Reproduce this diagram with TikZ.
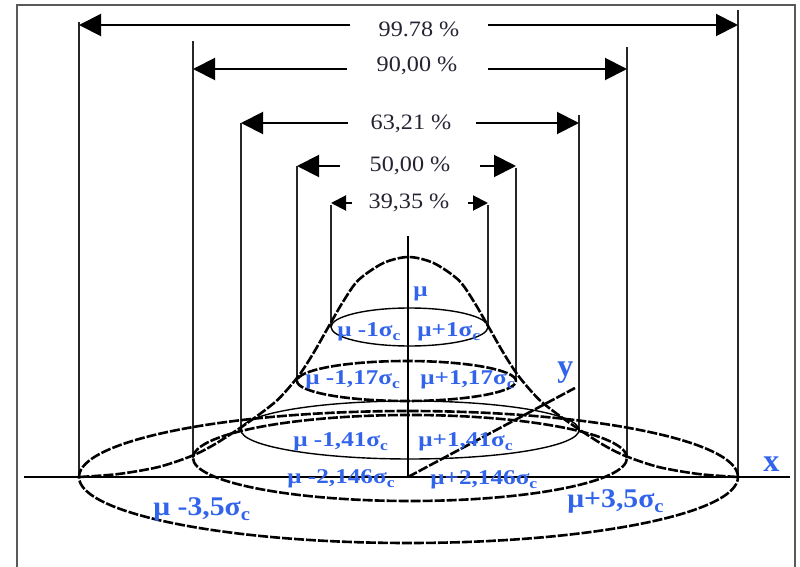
\documentclass[tikz,border=0pt]{standalone}
\usepackage{graphicx}
\usepackage{fontspec}
\setmainfont{Liberation Serif}
\usetikzlibrary{arrows.meta}
\definecolor{lblue}{RGB}{50,100,235}
\definecolor{ptxt}{RGB}{35,35,50}
\newcommand{\hs}[2]{\scalebox{#1}[1]{#2}}
\newcommand{\subc}{\textsubscript{c}}
\begin{document}
\begin{tikzpicture}[x=0.5pt,y=-0.5pt,
  frame/.style={draw=black!65, line width=1.2pt},
  guide/.style={line width=0.9pt, draw=black!85},
  dimarrow/.style={line width=1pt, -{Triangle[length=11pt,width=11pt]}},
  smallarrow/.style={line width=1pt, -{Triangle[length=7.5pt,width=7.5pt]}},
  pct/.style={text=ptxt, font=\fontsize{11}{13}\selectfont, inner sep=0pt},
  lbl/.style={text=lblue, font=\bfseries\fontsize{10.5}{12}\selectfont, inner sep=0pt, anchor=base west},
  biglbl/.style={text=lblue, font=\bfseries\fontsize{13.5}{15}\selectfont, inner sep=0pt, anchor=base west},
  axlbl/.style={text=lblue, font=\bfseries\fontsize{16}{18}\selectfont, inner sep=0pt, anchor=base west},
  rough/.style={line width=1.3pt, dash pattern=on 5pt off 1pt},
  thinell/.style={line width=0.7pt},
  axis/.style={line width=1.2pt}
]
\useasboundingbox (0,0) rectangle (800,567);
% frame (open at the bottom)
\draw[frame] (17,567) -- (17,5) -- (795,5) -- (795,567);

% percentage labels
\node[pct] (p99) at (419,29) {\hs{1.1}{99.78 \%}};
\node[pct] (p90) at (417,66) {\hs{1.1}{90,00 \%}};
\node[pct] (p63) at (411,124) {\hs{1.1}{63,21 \%}};
\node[pct] (p50) at (410,166) {\hs{1.1}{50,00 \%}};
\node[pct] (p39) at (409,203) {\hs{1.1}{39,35 \%}};

% guide line tops
\coordinate (t99l) at (79,22);   \coordinate (t99r) at (738,10);
\coordinate (t90l) at (193,41);  \coordinate (t90r) at (627,47);
\coordinate (t63l) at (241,123); \coordinate (t63r) at (579,115);
\coordinate (t50l) at (297,166); \coordinate (t50r) at (516,168);
\coordinate (t39l) at (331,205); \coordinate (t39r) at (488,205);
% guide line bottoms (ellipse ends)
\coordinate (b99l) at (79,477);  \coordinate (b99r) at (738,477);
\coordinate (b90l) at (193,458); \coordinate (b90r) at (627,458);
\coordinate (b63l) at (241,430); \coordinate (b63r) at (579,430);
\coordinate (b50l) at (297,381); \coordinate (b50r) at (516,381);
\coordinate (b39l) at (331,327); \coordinate (b39r) at (488,327);
\foreach \n in {99l,99r,90l,90r,63l,63r,50l,50r,39l,39r}
  \draw[guide] (t\n) -- (b\n);

% arrow start points and tips
\coordinate (s99l) at (350,25);  \coordinate (e99l) at (79,25);
\coordinate (s99r) at (488,25);  \coordinate (e99r) at (738,25);
\coordinate (s90l) at (347,69);  \coordinate (e90l) at (193,69);
\coordinate (s90r) at (488,69);  \coordinate (e90r) at (627,69);
\coordinate (s63l) at (348,123); \coordinate (e63l) at (241,123);
\coordinate (s63r) at (476,123); \coordinate (e63r) at (579,123);
\coordinate (s50l) at (340,166); \coordinate (e50l) at (297,166);
\coordinate (s50r) at (480,166); \coordinate (e50r) at (516,166);
\coordinate (s39l) at (352,203); \coordinate (e39l) at (331,203);
\coordinate (s39r) at (468,203); \coordinate (e39r) at (488,203);
\foreach \n in {99l,99r,90l,90r,63l,63r,50l,50r}
  \draw[dimarrow] (s\n) -- (e\n);
\draw[smallarrow] (s39l) -- (e39l);
\draw[smallarrow] (s39r) -- (e39r);

% axes
\coordinate (O) at (408,477);
\coordinate (xl) at (24,477);
\coordinate (xr) at (790,477);
\coordinate (zt) at (408,236);
\coordinate (ye) at (575,388);
\draw[axis] (xl) -- (xr);
\draw[axis] (O) -- (zt);
\draw[rough] (O) -- (ye);

% cross-section ellipses
\draw[thinell] (409.5,327) ellipse [x radius=39.25pt, y radius=9.5pt];
\draw[rough] (406.5,381) ellipse [x radius=54.75pt, y radius=10pt];
\draw[thinell] (410,430) ellipse [x radius=84.5pt, y radius=14.5pt];
\draw[rough] (410,458) ellipse [x radius=108.5pt, y radius=21.5pt];
\draw[rough] (408.5,477) ellipse [x radius=164.75pt, y radius=33pt];

% bell profile
\draw[rough] plot[smooth] coordinates {
 (79.5,477) (118.5,474) (158.5,467) (191.5,456) (213.5,445) (238.5,429)
 (258.5,415) (278.5,399) (298.5,376) (313.5,353) (329.5,325) (343.5,301)
 (358.5,280) (383.5,263) (408.5,257) (433.5,263) (458.5,280) (473.5,301)
 (487.5,325) (503.5,353) (518.5,376) (538.5,399) (558.5,415) (578.5,429)
 (603.5,445) (625.5,456) (658.5,467) (698.5,474) (737.5,477)};

% blue labels
\node[lbl] (mu) at (413,297) {\hs{1.2}{μ}};
\node[lbl] (m1) at (337,337) {\hs{1.2}{μ -1σ\subc}};
\node[lbl] (p1) at (417,337) {\hs{1.2}{μ+1σ\subc}};
\node[lbl] (m117) at (305,385) {\hs{1.2}{μ -1,17σ\subc}};
\node[lbl] (p117) at (420,385) {\hs{1.2}{μ+1,17σ\subc}};
\node[lbl] (m141) at (293,447) {\hs{1.2}{μ -1,41σ\subc}};
\node[lbl] (p141) at (418,447) {\hs{1.2}{μ+1,41σ\subc}};
\node[lbl] (m2146) at (287,484) {\hs{1.2}{μ -2,146σ\subc}};
\node[lbl] (p2146) at (430,485) {\hs{1.2}{μ+2,146σ\subc}};
\node[biglbl] (m35) at (153,516) {\hs{1.1}{μ -3,5σ\subc}};
\node[biglbl] (p35) at (567,508) {\hs{1.1}{μ+3,5σ\subc}};
\node[axlbl] (xlab) at (763,472) {x};
\node[axlbl] (ylab) at (557,377) {y};
\end{tikzpicture}
\end{document}
